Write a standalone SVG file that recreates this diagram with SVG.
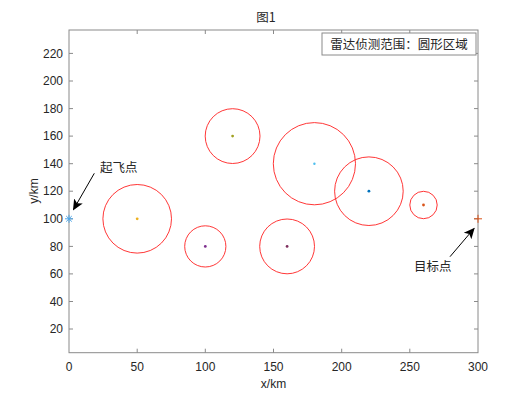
<svg xmlns="http://www.w3.org/2000/svg" width="529" height="397" viewBox="0 0 529 397">
<defs>
<style>
.ax{stroke:#8a8a8a;stroke-width:1;fill:none}
.tk{stroke:#8a8a8a;stroke-width:1}
.lbl{font-family:"Liberation Sans",Arial,sans-serif;font-size:12px;fill:#262626}
.cjk{font-family:"Noto Sans CJK SC","Liberation Serif",serif;font-size:12.5px;fill:#262626}
.rc{fill:none;stroke:#ff2020;stroke-width:0.9}
.arr{stroke:#000;stroke-width:1;fill:none}
</style>
<marker id="ah" viewBox="0 0 10 10" refX="9" refY="5" markerWidth="11" markerHeight="11" markerUnits="userSpaceOnUse" orient="auto">
<path d="M0,0.5 L10,5 L0,9.5 L2.5,5 Z" fill="#000"/>
</marker>
</defs>
<rect width="529" height="397" fill="#fff"/>
<g id="axes">
<rect class="ax" x="69" y="30" width="409" height="322.7"/>
<g id="ticks">
<path class="tk" d="M137.2,352.7v-4M205.3,352.7v-4M273.5,352.7v-4M341.7,352.7v-4M409.8,352.7v-4M137.2,30v4M205.3,30v4M273.5,30v4M341.7,30v4M409.8,30v4"/>
<path class="tk" d="M69,329h4M69,301.5h4M69,273.9h4M69,246.4h4M69,218.8h4M69,191.2h4M69,163.7h4M69,136.1h4M69,108.6h4M69,81h4M69,53.4h4M478,329h-4M478,301.5h-4M478,273.9h-4M478,246.4h-4M478,218.8h-4M478,191.2h-4M478,163.7h-4M478,136.1h-4M478,108.6h-4M478,81h-4M478,53.4h-4"/>
</g>
<g id="xlabels" class="lbl" text-anchor="middle">
<text x="69" y="371">0</text><text x="137.2" y="371">50</text><text x="205.3" y="371">100</text><text x="273.5" y="371">150</text><text x="341.7" y="371">200</text><text x="409.8" y="371">250</text><text x="478" y="371">300</text>
</g>
<g id="ylabels" class="lbl" text-anchor="end">
<text x="63" y="333.2">20</text><text x="63" y="305.7">40</text><text x="63" y="278.1">60</text><text x="63" y="250.6">80</text><text x="63" y="223">100</text><text x="63" y="195.4">120</text><text x="63" y="167.9">140</text><text x="63" y="140.3">160</text><text x="63" y="112.8">180</text><text x="63" y="85.2">200</text><text x="63" y="57.6">220</text>
</g>
<text class="lbl" x="273.5" y="388" text-anchor="middle">x/km</text>
<text class="lbl" transform="translate(38,191) rotate(-90)" text-anchor="middle">y/km</text>
<text class="cjk" x="266" y="22" text-anchor="middle">图1</text>
</g>
<g id="radar">
<g id="c1"><circle class="rc" cx="137.2" cy="218.8" r="34.3"/><circle cx="137.2" cy="218.8" r="1.4" fill="#EDB120"/></g>
<g id="c2"><circle class="rc" cx="205.3" cy="246.4" r="20.6"/><circle cx="205.3" cy="246.4" r="1.4" fill="#7E2F8E"/></g>
<g id="c3"><circle class="rc" cx="232.6" cy="136.1" r="27.4"/><circle cx="232.6" cy="136.1" r="1.4" fill="#A0A020"/></g>
<g id="c4"><circle class="rc" cx="287.1" cy="246.4" r="27.4"/><circle cx="287.1" cy="246.4" r="1.4" fill="#7E2F5E"/></g>
<g id="c5"><circle class="rc" cx="314.4" cy="163.7" r="41.1"/><circle cx="314.4" cy="163.7" r="1.2" fill="#4DBEEE"/></g>
<g id="c6"><circle class="rc" cx="368.9" cy="191.2" r="34.3"/><circle cx="368.9" cy="191.2" r="1.4" fill="#0072BD"/></g>
<g id="c7"><circle class="rc" cx="423.5" cy="205" r="13.7"/><circle cx="423.5" cy="205" r="1.4" fill="#D95319"/></g>
</g>
<g id="start">
<path d="M65,218.8h8M69,214.8v8M66.2,216l5.6,5.6M71.8,216l-5.6,5.6" stroke="#4DA6E8" stroke-width="1"/>
</g>
<g id="end">
<path d="M474,218.8h8M478,214.8v8" stroke="#D95319" stroke-width="1"/>
</g>
<g id="legend">
<rect x="322" y="33" width="154" height="22" fill="#fff" stroke="#8a8a8a" stroke-width="1"/>
<text class="cjk" x="399" y="49" text-anchor="middle">雷达侦测范围：圆形区域</text>
</g>
<g id="connectors">
<line class="arr" x1="94.3" y1="173.3" x2="73.5" y2="209.5" marker-end="url(#ah)"/>
<line class="arr" x1="450" y1="256.7" x2="474" y2="228.5" marker-end="url(#ah)"/>
</g>
<g id="annotations">
<text class="cjk" x="100" y="172">起飞点</text>
<text class="cjk" x="414" y="271">目标点</text>
</g>
</svg>
